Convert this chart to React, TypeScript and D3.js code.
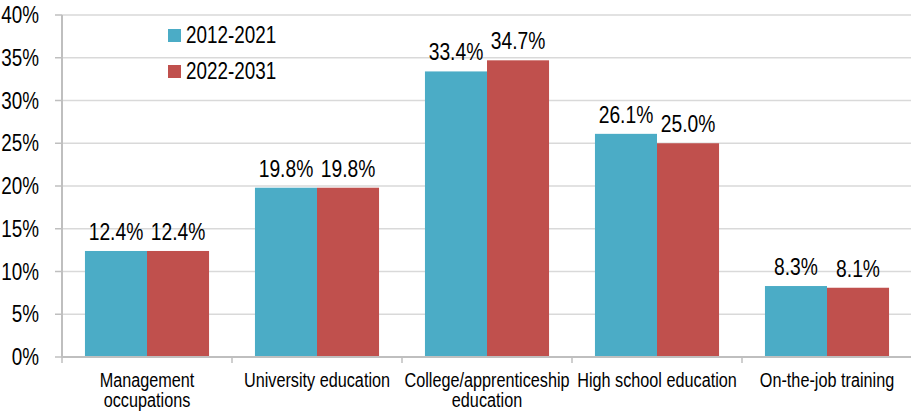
import React, { useEffect, useRef } from 'react';
import * as d3 from 'd3';

const categories = [
    'Management occupations',
    'University education',
    'College/apprenticeship education',
    'High school education',
    'On-the-job training'
];
// label lines as they wrap in the chart
const categoryLines = [
    ['Management', 'occupations'],
    ['University education'],
    ['College/apprenticeship', 'education'],
    ['High school education'],
    ['On-the-job training']
];
const seriesNames = ['2012-2021', '2022-2031'];
const values2012 = [12.4, 19.8, 33.4, 26.1, 8.3];
const values2022 = [12.4, 19.8, 34.7, 25.0, 8.1];
const yTicks = [0, 5, 10, 15, 20, 25, 30, 35, 40];
const colors = ['#4bacc6', '#c0504d'];

const FONT = "'Liberation Sans', Arial, sans-serif";
const SQUEEZE = 0.82; // the original font is a narrow one

type Sel = d3.Selection<any, any, any, any>;

// place a text at (x, y), squeezed horizontally round its anchor
function narrowText(parent: Sel, x: number, y: number, lines: string[], size: number, anchor: string, lineGap = 20) {
    const g = parent.append('g')
        .attr('transform', `translate(${x},${y}) scale(${SQUEEZE},1)`);
    const t = g.append('text')
        .attr('text-anchor', anchor)
        .style('font-family', FONT)
        .style('font-size', `${size}px`)
        .attr('fill', '#000');
    lines.forEach((line, k) => {
        t.append('tspan')
            .attr('x', 0)
            .attr('y', k * lineGap)
            .text(line);
    });
    return t;
}

const App: React.FC = () => {
    const svgRef = useRef<SVGSVGElement | null>(null);

    useEffect(() => {
        document.body.style.margin = '0';
        const width = 911;
        const height = 415;
        const margin = { top: 15, right: 0, bottom: 58, left: 62 };

        const svg = d3.select(svgRef.current)
            .attr('width', width)
            .attr('height', height);
        svg.selectAll('*').remove();

        const x0 = d3.scaleBand<string>()
            .domain(categories)
            .range([margin.left, width + 1])
            .paddingInner(0)
            .paddingOuter(0);

        const x1 = d3.scaleBand<string>()
            .domain(seriesNames)
            .range([0, x0.bandwidth()])
            .paddingOuter(0.37);

        const y = d3.scaleLinear()
            .domain([0, 40])
            .range([height - margin.bottom, margin.top]);

        // gridlines
        svg.append('g')
            .selectAll('line')
            .data(yTicks.filter(d => d > 0))
            .enter()
            .append('line')
            .attr('x1', margin.left)
            .attr('x2', width)
            .attr('y1', d => y(d))
            .attr('y2', d => y(d))
            .attr('stroke', '#d9d9d9')
            .attr('stroke-width', 1.5);

        // bars
        const series = [values2012, values2022];
        const groups = svg.append('g')
            .selectAll('g')
            .data(categories)
            .enter()
            .append('g')
            .attr('transform', d => `translate(${x0(d)},0)`);

        groups.selectAll('rect')
            .data((_, i) => seriesNames.map((s, j) => ({ s, v: series[j][i], j })))
            .enter()
            .append('rect')
            .attr('x', d => x1(d.s) as number)
            .attr('width', x1.bandwidth())
            .attr('y', d => y(d.v))
            .attr('height', d => y(0) - y(d.v))
            .attr('fill', d => colors[d.j]);

        const labelLayer = svg.append('g');
        categories.forEach((c, i) => {
            seriesNames.forEach((s, j) => {
                const v = series[j][i];
                narrowText(labelLayer,
                    (x0(c) as number) + (x1(s) as number) + x1.bandwidth() / 2,
                    y(v) - 11, [v.toFixed(1) + '%'], 23.5, 'middle');
            });
        });

        // y axis
        const yAxis = svg.append('g');
        yAxis.append('line')
            .attr('x1', margin.left)
            .attr('x2', margin.left)
            .attr('y1', y(40))
            .attr('y2', y(0))
            .attr('stroke', '#bfbfbf')
            .attr('stroke-width', 2);
        yAxis.selectAll('line.tick')
            .data(yTicks)
            .enter()
            .append('line')
            .attr('class', 'tick')
            .attr('x1', margin.left - 7)
            .attr('x2', margin.left)
            .attr('y1', d => y(d))
            .attr('y2', d => y(d))
            .attr('stroke', '#bfbfbf')
            .attr('stroke-width', 1.5);
        yTicks.forEach(t => {
            narrowText(yAxis, 39, y(t) + 8, [t + '%'], 23, 'end');
        });

        // x axis
        const xAxis = svg.append('g');
        xAxis.append('line')
            .attr('x1', margin.left)
            .attr('x2', width)
            .attr('y1', y(0))
            .attr('y2', y(0))
            .attr('stroke', '#bfbfbf')
            .attr('stroke-width', 2);
        xAxis.selectAll('line.tick')
            .data(categories)
            .enter()
            .append('line')
            .attr('class', 'tick')
            .attr('x1', d => x0(d) as number)
            .attr('x2', d => x0(d) as number)
            .attr('y1', y(0))
            .attr('y2', y(0) + 6)
            .attr('stroke', '#bfbfbf')
            .attr('stroke-width', 1.5);
        categories.forEach((c, i) => {
            narrowText(xAxis, (x0(c) as number) + x0.bandwidth() / 2, y(0) + 30,
                categoryLines[i], 19.8, 'middle', 20);
        });

        // legend
        const legend = svg.append('g')
            .attr('transform', 'translate(168, 29)');
        seriesNames.forEach((s, i) => {
            legend.append('rect')
                .attr('y', i * 36)
                .attr('width', 13)
                .attr('height', 13)
                .attr('fill', colors[i]);
            narrowText(legend, 18, i * 36 + 14, [s], 23, 'start');
        });
    }, []);

    return <svg ref={svgRef}></svg>;
};

export default App;
